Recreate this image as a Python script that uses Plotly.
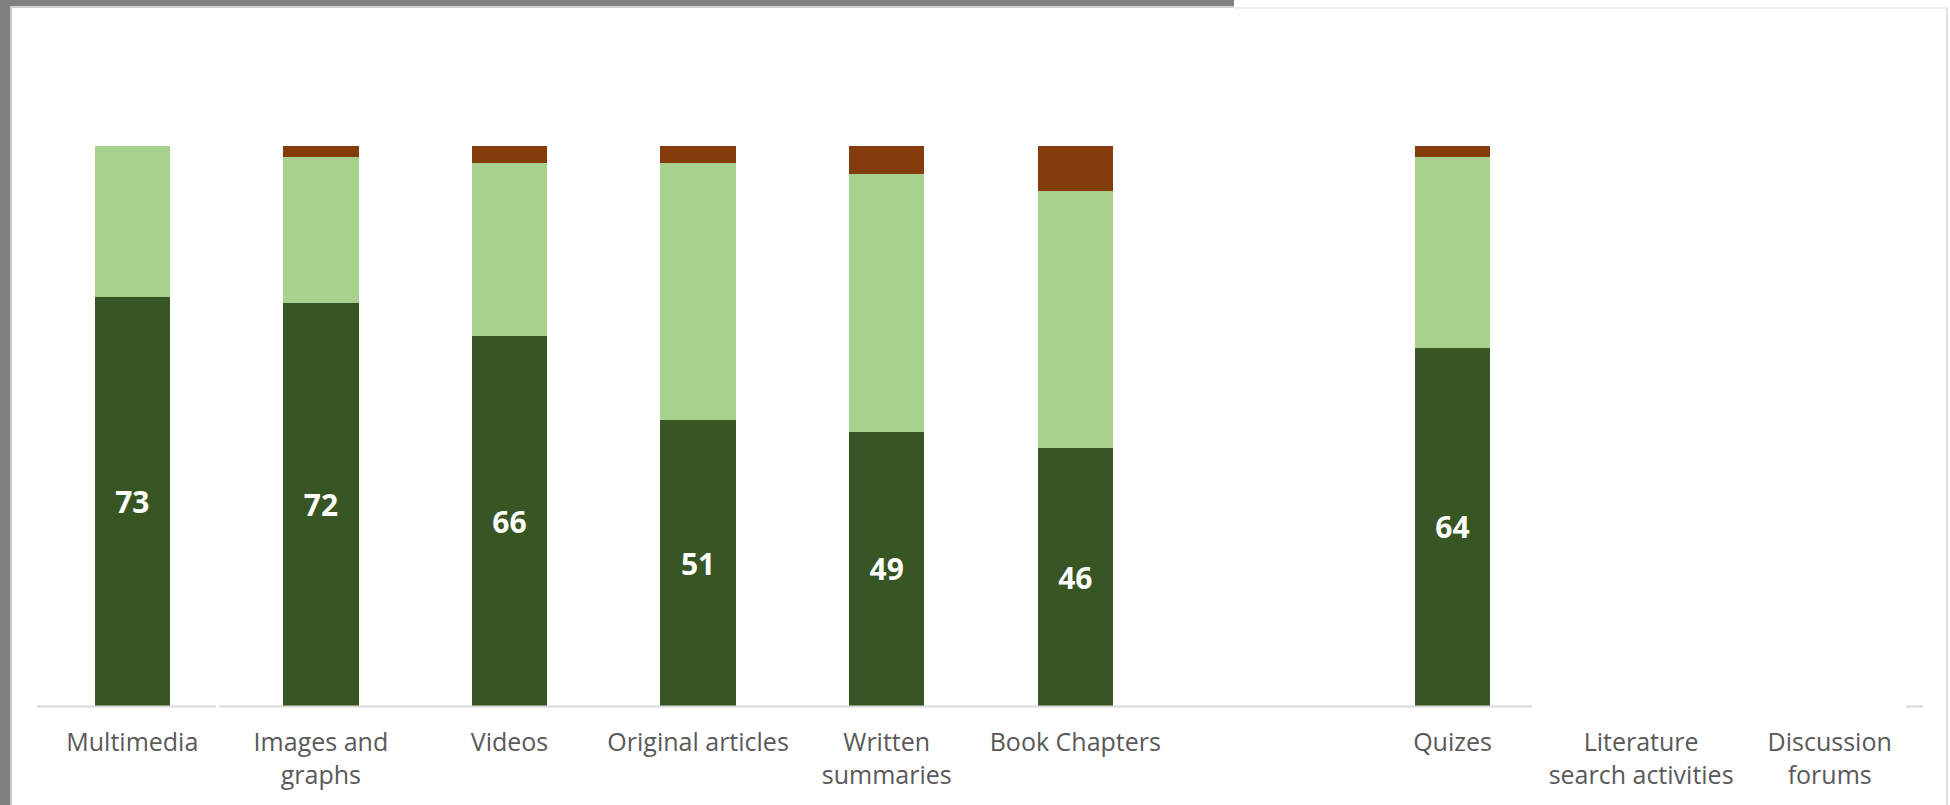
import plotly.graph_objects as go

categories = ["Multimedia", "Images and<br>graphs", "Videos", "Original articles",
              "Written<br>summaries", "Book Chapters", " ", "Quizes",
              "Literature<br>search activities", "Discussion<br>forums"]
strongly = [73, 72, 66, 51, 49, 46, None, 64, None, None]
somewhat = [27, 26, 31, 46, 46, 46, None, 34, None, None]
disagree = [0, 2, 3, 3, 5, 8, None, 2, None, None]

W, H = 1950, 805
L, R, T, B = 38, 26, 146, 99
PW, PH = W - L - R, H - T - B


def px(x):
    return (x - L) / PW


def py(y):
    return (H - B - y) / PH


fig = go.Figure()
fig.add_trace(go.Bar(
    x=categories, y=strongly, name="Strongly", marker=dict(color="#375623", line=dict(width=0)),
    text=[str(v) if v else "" for v in strongly], textposition="inside",
    insidetextanchor="middle", textangle=0,
    textfont=dict(family="Open Sans", size=30, color="white", weight="bold"),
    width=0.4))
fig.add_trace(go.Bar(
    x=categories, y=somewhat, name="Somewhat", marker=dict(color="#A9D18E", line=dict(width=0)),
    width=0.4, textposition="none"))
fig.add_trace(go.Bar(
    x=categories, y=disagree, name="Disagree", marker=dict(color="#843C0C", line=dict(width=0)),
    width=0.4, textposition="none"))

shapes = []
line_col = "#d9d9d9"
# axis line segments
for a, b in [(37, 216), (219, 1532), (1906, 1923)]:
    shapes.append(dict(type="line", xref="paper", yref="paper", x0=px(a), x1=px(b),
                       y0=py(706.5), y1=py(706.5), line=dict(color=line_col, width=2)))
# screenshot frame decorations
shapes.append(dict(type="rect", xref="paper", yref="paper", x0=px(0), x1=px(10),
                   y0=py(0), y1=py(805), fillcolor="#808080", line=dict(width=0), layer="above"))
shapes.append(dict(type="rect", xref="paper", yref="paper", x0=px(10), x1=px(12),
                   y0=py(7), y1=py(805), fillcolor="#c8c8c8", line=dict(width=0), layer="above"))
shapes.append(dict(type="rect", xref="paper", yref="paper", x0=px(0), x1=px(1234),
                   y0=py(0), y1=py(6), fillcolor="#808080", line=dict(width=0), layer="above"))
shapes.append(dict(type="rect", xref="paper", yref="paper", x0=px(10), x1=px(1234),
                   y0=py(6), y1=py(8), fillcolor="#d0d0d0", line=dict(width=0), layer="above"))
shapes.append(dict(type="line", xref="paper", yref="paper", x0=px(1234), x1=px(1947),
                   y0=py(8), y1=py(8), line=dict(color="#e6e6e6", width=1.5)))
shapes.append(dict(type="line", xref="paper", yref="paper", x0=px(1947), x1=px(1947),
                   y0=py(8), y1=py(805), line=dict(color="#d9d9d9", width=1.5)))

fig.update_layout(
    width=W, height=H, barmode="stack", showlegend=False,
    margin=dict(l=L, r=R, t=T, b=B, pad=0),
    paper_bgcolor="white", plot_bgcolor="white",
    shapes=shapes,
    xaxis=dict(type="category", range=[-0.5, 9.5], showline=False, showgrid=False,
               ticks="", tickfont=dict(family="Open Sans", size=25, color="#595959"),
               tickangle=0, ticklabelstandoff=19),
    yaxis=dict(range=[0, 100], visible=False, showgrid=False, zeroline=False),
)
fig.write_html("out.html", config={"displayModeBar": False},
               post_script="document.body.style.margin='0';document.body.style.overflow='hidden';")
